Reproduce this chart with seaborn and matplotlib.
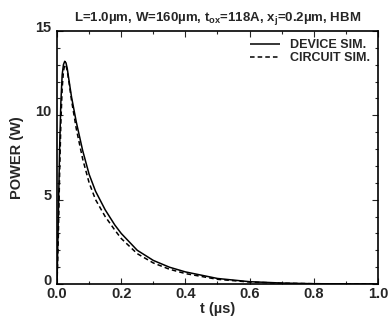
import matplotlib
matplotlib.use("Agg")
import matplotlib.pyplot as plt
import matplotlib.transforms as mtransforms
import seaborn as sns
import pandas as pd
from matplotlib.ticker import MultipleLocator, FormatStrFormatter

sns.set_theme(style="ticks")
plt.rcParams["font.family"] = ["Liberation Sans", "DejaVu Sans"]
plt.rcParams["font.weight"] = "bold"
plt.rcParams["mathtext.fontset"] = "custom"
plt.rcParams["mathtext.rm"] = "Liberation Sans:bold"
plt.rcParams["mathtext.bf"] = "Liberation Sans:bold"
plt.rcParams["mathtext.default"] = "bf"

t_device = [0, 0.004, 0.008, 0.012, 0.016, 0.02, 0.024, 0.028, 0.032, 0.037, 0.045,
            0.06, 0.08, 0.10, 0.12, 0.15, 0.18, 0.2, 0.25, 0.3, 0.35, 0.4, 0.5,
            0.6, 0.7, 0.8, 0.9, 1.0]
p_device = [0, 4.0, 8.0, 10.8, 12.4, 13.0, 13.2, 13.1, 12.75, 12.1, 11.1,
            9.6, 7.9, 6.5, 5.5, 4.4, 3.5, 3.0, 2.0, 1.4, 1.0, 0.72, 0.33,
            0.14, 0.06, 0.02, 0.01, 0.0]
t_circuit = [0, 0.004, 0.008, 0.012, 0.016, 0.02, 0.024, 0.028, 0.032, 0.037, 0.045,
             0.06, 0.08, 0.10, 0.12, 0.15, 0.18, 0.2, 0.25, 0.3, 0.35, 0.4, 0.5,
             0.6, 0.7, 0.8, 0.9, 1.0]
p_circuit = [0, 2.8, 6.5, 9.6, 11.6, 12.6, 13.0, 12.95, 12.6, 12.0, 10.9,
             9.2, 7.4, 6.0, 5.0, 4.0, 3.2, 2.7, 1.8, 1.25, 0.88, 0.62, 0.28,
             0.12, 0.05, 0.02, 0.01, 0.0]
series_names = ["DEVICE SIM.", "CIRCUIT SIM."]

df = pd.concat([
    pd.DataFrame({"t": t_device, "P": p_device, "series": series_names[0]}),
    pd.DataFrame({"t": t_circuit, "P": p_circuit, "series": series_names[1]}),
])

fig = plt.figure(figsize=(3.88, 3.25), dpi=100)
ax = fig.add_axes([0.147, 0.126, 0.827, 0.779])
sns.lineplot(data=df, x="t", y="P", style="series", hue="series",
             palette=["black", "black"], dashes=[(1, 0), (3, 2)],
             linewidth=1.1, ax=ax, legend=True)

ax.set_xlim(0, 1.0)
ax.set_ylim(0, 15)
ax.xaxis.set_major_locator(MultipleLocator(0.2))
ax.xaxis.set_minor_locator(MultipleLocator(0.1))
ax.xaxis.set_major_formatter(FormatStrFormatter("%.1f"))
ax.yaxis.set_major_locator(MultipleLocator(5))
ax.yaxis.set_minor_locator(MultipleLocator(1))
ax.yaxis.set_major_formatter(FormatStrFormatter("%d"))
ax.tick_params(which="both", direction="in", top=True, right=True, width=0.8)
ax.tick_params(which="major", length=4, labelsize=10.5, pad=2)
ax.tick_params(which="minor", length=2)
ax.tick_params(axis="y", which="major", pad=4)
for lab in ax.get_xticklabels() + ax.get_yticklabels():
    lab.set_fontweight("bold")
shift = mtransforms.ScaledTranslation(0, 3.5 / 72, fig.dpi_scale_trans)
for lab in ax.get_yticklabels():
    lab.set_transform(lab.get_transform() + shift)
for s in ax.spines.values():
    s.set_linewidth(1.2)
    s.set_color("black")

ax.set_xlabel("t (µs)", fontsize=10.5, fontweight="bold", labelpad=1)
ax.set_ylabel("POWER (W)", fontsize=10.5, fontweight="bold", labelpad=8)
ax.set_title(r"L=1.0µm, W=160µm, t$_{ox}$=118A, x$_{j}$=0.2µm, HBM",
             fontsize=9.5, fontweight="bold", pad=7)

leg = ax.legend(loc="upper right", frameon=False, fontsize=9, handlelength=2.4,
                handletextpad=0.8, borderaxespad=0.25, labelspacing=0.1)
for txt in leg.get_texts():
    txt.set_fontweight("bold")

fig.savefig("out.png", dpi=100)
